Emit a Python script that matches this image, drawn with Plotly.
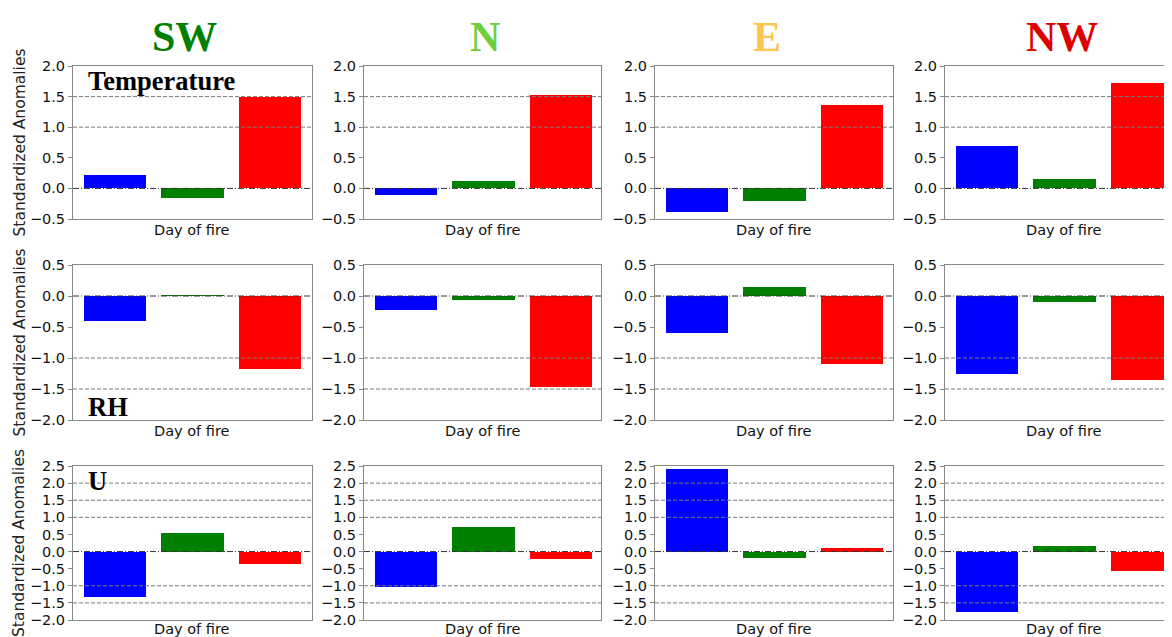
import plotly.graph_objects as go

W, H = 1172, 637
OFF = 8  # page body margin
FW, FH = W - OFF, H - OFF

directions = ["SW", "N", "E", "NW"]
direction_colors = ["#008000", "#6CD03C", "#FFC44D", "#DD0000"]
variables = ["Temperature", "RH", "U"]
bar_positions = [0, 1, 2]
bar_colors = ["#0000FF", "#008000", "#FF0000"]

# rows: Temperature, RH, U ; each list over directions SW, N, E, NW
temp_blue = [0.22, -0.11, -0.39, 0.69]
temp_green = [-0.16, 0.12, -0.20, 0.16]
temp_red = [1.50, 1.53, 1.36, 1.73]
rh_blue = [-0.40, -0.22, -0.60, -1.25]
rh_green = [0.01, -0.06, 0.145, -0.09]
rh_red = [-1.17, -1.47, -1.10, -1.35]
u_blue = [-1.34, -1.04, 2.40, -1.76]
u_green = [0.54, 0.73, -0.18, 0.16]
u_red = [-0.36, -0.23, 0.09, -0.58]

y_ranges = [[-0.5, 2.0], [-2.0, 0.5], [-2.0, 2.5]]
ref_levels = [-2.0, -1.5, -1.0, 1.0, 1.5, 2.0]

rows_data = [
    [temp_blue, temp_green, temp_red],
    [rh_blue, rh_green, rh_red],
    [u_blue, u_green, u_red],
]


def px(x):
    return (x - OFF) / FW


def py(y):
    return 1 - (y - OFF) / FH


# pixel layout (page coordinates)
col_px = [(73, 312), (364, 601), (655, 893), (945, 1172)]
row_px = [(66, 219), (265, 420), (466, 620)]
label_gap = [1, 1, -1]
px_per_unit = (312 - 73) / 3.08

fig = go.Figure()
shapes = []
annotations = []

idx = 0
for r in range(3):
    for c in range(4):
        idx += 1
        xa = "x" if idx == 1 else f"x{idx}"
        ya = "y" if idx == 1 else f"y{idx}"
        vals = [rows_data[r][k][c] for k in range(3)]
        fig.add_trace(go.Bar(
            x=bar_positions, y=vals, width=0.8,
            marker=dict(color=bar_colors, line=dict(width=0)),
            xaxis=xa, yaxis=ya, showlegend=False, hoverinfo="skip",
        ))
        x0, x1 = col_px[c]
        y0, y1 = row_px[r]
        xr0 = -0.54
        xr1 = xr0 + (x1 - x0) / px_per_unit
        fig.update_layout({
            ("xaxis" if idx == 1 else f"xaxis{idx}"): dict(
                domain=[px(x0), min(px(x1), 1.0)], range=[xr0, xr1],
                showticklabels=False, ticks="", showgrid=False, zeroline=False,
                showline=True, linecolor="#888888", linewidth=1, mirror=True,
                anchor=ya, fixedrange=True, automargin=False,
            ),
            ("yaxis" if idx == 1 else f"yaxis{idx}"): dict(
                domain=[py(y1), py(y0)], range=y_ranges[r],
                dtick=0.5, tick0=0, tickformat=".1f",
                showgrid=False, zeroline=False,
                showline=True, linecolor="#888888", linewidth=1,
                mirror=(c < 3),
                ticks="outside", ticklen=4, tickcolor="#888888",
                tickfont=dict(family="DejaVu Sans", size=14.5, color="#111111"),
                anchor=xa, fixedrange=True, automargin=False,
            ),
        })
        for lv in ref_levels:
            if y_ranges[r][0] < lv < y_ranges[r][1]:
                shapes.append(dict(
                    type="line", xref=f"{xa} domain", yref=ya,
                    x0=0, x1=1, y0=lv, y1=lv, layer="above",
                    line=dict(color="#7a7a7a", width=1, dash="4px,2px"),
                ))
        shapes.append(dict(
            type="line", xref=f"{xa} domain", yref=ya,
            x0=0, x1=1, y0=0, y1=0, layer="above",
            line=dict(color="#333333", width=1, dash="6px,2px,1px,2px"),
        ))
        # x-axis label
        annotations.append(dict(
            text="Day of fire", xref="paper", yref="paper",
            x=px((x0 + min(x0 + 238, 1183)) / 2), y=py(y1 + label_gap[r]),
            xanchor="center", yanchor="top", showarrow=False,
            font=dict(family="DejaVu Sans", size=14.5, color="#111111"),
        ))
    # y-axis title per row
    y0, y1 = row_px[r]
    annotations.append(dict(
        text="Standardized Anomalies", xref="paper", yref="paper",
        x=px(19), y=py((y0 + y1) / 2), textangle=-90,
        xanchor="center", yanchor="middle", showarrow=False,
        font=dict(family="DejaVu Sans", size=15.5, color="#222222"),
    ))

# direction titles
title_x = [185, 485, 767, 1062]
for c in range(4):
    annotations.append(dict(
        text=f"<b>{directions[c]}</b>", xref="paper", yref="paper",
        x=px(title_x[c]), y=py(37), xanchor="center", yanchor="middle",
        showarrow=False,
        font=dict(family="Liberation Serif", size=42, color=direction_colors[c]),
    ))

# variable labels inside first column
var_pos = [(86, 81), (86, 407), (86, 481)]
for r in range(3):
    annotations.append(dict(
        text=f"<b>{variables[r]}</b>", xref="paper", yref="paper",
        x=px(var_pos[r][0]), y=py(var_pos[r][1]),
        xanchor="left", yanchor="middle", showarrow=False,
        font=dict(family="Liberation Serif", size=26.5, color="#000000"),
    ))

fig.update_layout(
    template="none",
    width=FW, height=FH,
    margin=dict(l=0, r=0, t=0, b=0, autoexpand=False),
    paper_bgcolor="white", plot_bgcolor="white",
    shapes=shapes, annotations=annotations,
    bargap=0,
)

fig.write_html("out.html")
